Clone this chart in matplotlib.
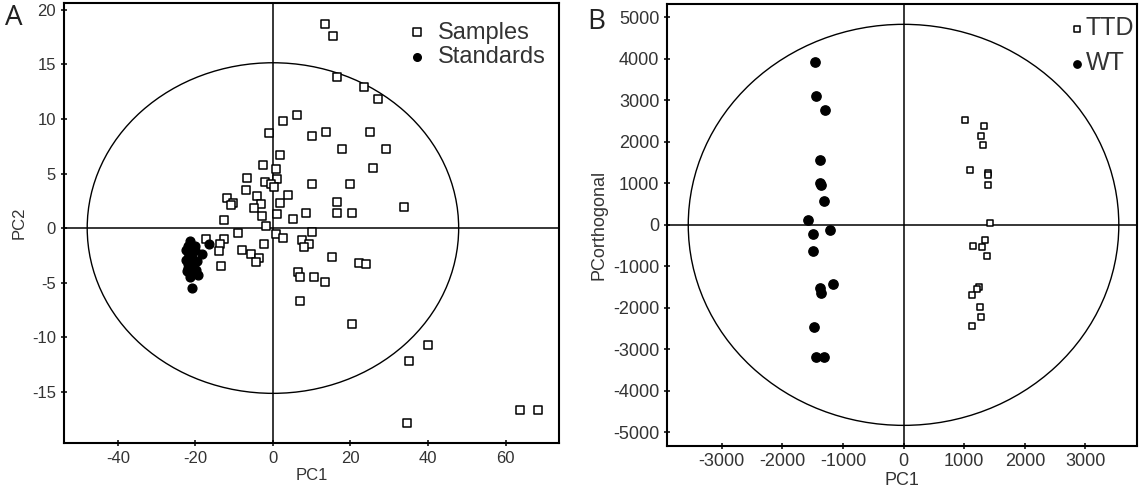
import numpy as np
import matplotlib
matplotlib.use("Agg")
from matplotlib import pyplot as plt
from matplotlib.patches import Ellipse

plt.rcParams['font.family'] = ['Liberation Sans', 'DejaVu Sans']
plt.rcParams['axes.unicode_minus'] = False

# panel A: PCA scores (PC1, PC2)
samples_x = [13.4, 15.4, 16.4, 23.6, 27.1, 6.3, 2.5, -0.9, 10.2, 13.8, 25.1, 17.9, 29.2,
             1.9, 25.7, -2.5, 0.8, -6.6, -2.0, 1.0, -0.5, 0.3, 10.2, 19.9, -7.0, -11.9,
             -10.2, -10.7, -4.0, -3.0, 3.9, 1.9, -5.0, 8.4, 16.4, 16.4, 20.5, 33.9, -2.9,
             1.0, 5.1, -12.5, -1.7, -9.0, 10.1, 0.9, 2.5, -17.2, -12.7, -13.7, 7.5, 9.4,
             8.0, -2.2, -13.9, -8.0, -5.6, -3.7, -4.3, 15.3, 22.1, 24.0, -13.3, 6.5, 7.1,
             10.5, 13.5, 6.9, 20.5, 40.0, 35.0, 63.6, 68.3, 34.7]
samples_y = [18.7, 17.6, 13.8, 12.9, 11.8, 10.4, 9.8, 8.7, 8.4, 8.8, 8.8, 7.2, 7.2,
             6.7, 5.5, 5.8, 5.4, 4.6, 4.2, 4.5, 4.0, 3.8, 4.0, 4.0, 3.5, 2.8,
             2.3, 2.1, 2.9, 2.2, 3.0, 2.3, 1.8, 1.4, 2.4, 1.4, 1.4, 1.9, 1.1,
             1.3, 0.8, 0.7, 0.2, -0.46, -0.4, -0.55, -0.9, -1.0, -1.0, -1.5, -1.1, -1.5,
             -1.7, -1.5, -2.1, -2.0, -2.4, -2.7, -3.1, -2.65, -3.2, -3.3, -3.5, -4.0, -4.5,
             -4.5, -4.9, -6.7, -8.8, -10.7, -12.2, -16.7, -16.7, -17.9]
standards_x = [-21.5, -21.8, -21.2, -22.0, -21.0, -21.6, -22.3, -20.8, -21.4, -22.0, -20.5,
               -21.2, -21.8, -20.6, -21.0, -22.2, -21.5, -20.3, -19.3, -20.0, -19.6, -18.3,
               -16.4, -20.8, -21.3, -20.2, -19.8, -22.4]
standards_y = [-1.2, -1.6, -1.9, -2.2, -2.4, -2.6, -2.9, -2.8, -3.1, -3.3, -3.2,
               -3.5, -3.7, -3.6, -3.9, -3.9, -4.2, -4.0, -4.3, -2.0, -3.0, -2.35,
               -1.5, -5.5, -4.5, -1.6, -3.8, -2.0]

# panel B: OPLS scores (PC1, PCorthogonal)
ttd_x = [1006, 1335, 1276, 1312, 1094, 1388, 1388, 1388, 1418, 1347, 1153, 1297, 1371,
         1241, 1210, 1124, 1259, 1276, 1124]
ttd_y = [2534, 2390, 2149, 1933, 1331, 1243, 1195, 970, 40, -370, -510, -524, -759,
         -1506, -1540, -1699, -1972, -2213, -2430]
wt_x = [-1453, -1447, -1300, -1371, -1371, -1359, -1312, -1582, -1488, -1206, -1485,
        -1171, -1382, -1359, -1471, -1447, -1306]
wt_y = [3921, 3103, 2767, 1564, 1018, 954, 577, 128, -217, -136, -630,
        -1426, -1522, -1643, -2470, -3185, -3185]

fig = plt.figure(figsize=(11.41, 4.92), dpi=100)
axA = fig.add_axes([0.0557, 0.0996, 0.4343, 0.8937])
axB = fig.add_axes([0.5846, 0.0941, 0.4119, 0.8978])


def style_axes(ax, fs):
    for s in ax.spines.values():
        s.set_linewidth(1.5)
    ax.tick_params(direction='inout', length=5, width=1.1, labelsize=fs,
                   labelcolor='#333333', pad=3)
    ax.axhline(0, color='black', lw=1.1, zorder=1)
    ax.axvline(0, color='black', lw=1.1, zorder=1)


# --- A ---
style_axes(axA, 12)
axA.add_patch(Ellipse((0, 0), 2 * 47.9, 2 * 15.15, fill=False, lw=1.0,
                      edgecolor='black', zorder=1))
axA.scatter(samples_x, samples_y, marker='s', s=26, facecolors='white',
            edgecolors='black', linewidths=1.1, zorder=3, label='Samples')
axA.scatter(standards_x, standards_y, marker='o', s=40, color='black',
            zorder=4, label='Standards')
axA.set_xlim(-54, 73.8)
axA.set_ylim(-19.7, 20.6)
axA.set_xticks([-40, -20, 0, 20, 40, 60])
axA.set_yticks([-15, -10, -5, 0, 5, 10, 15, 20])
axA.set_xlabel('PC1', fontsize=12, color='#333333', labelpad=2)
axA.set_ylabel('PC2', fontsize=12, color='#333333', labelpad=4)
legA = axA.legend(loc='upper left', bbox_to_anchor=(0.67, 0.98), frameon=False,
                  fontsize=17, scatterpoints=1, handlelength=1.0, handletextpad=0.4,
                  labelspacing=0.12, borderaxespad=0, labelcolor='#333333')
legA.legend_handles[1].set_sizes([30])

# --- B ---
style_axes(axB, 13)
axB.add_patch(Ellipse((0, 0), 2 * 3550, 2 * 4830, fill=False, lw=1.0,
                      edgecolor='black', zorder=1))
axB.scatter(ttd_x, ttd_y, marker='s', s=22, facecolors='white',
            edgecolors='black', linewidths=1.1, zorder=3, label='TTD')
axB.scatter(wt_x, wt_y, marker='o', s=45, color='black', zorder=4, label='WT')
axB.set_xlim(-3900, 3850)
axB.set_ylim(-5320, 5320)
axB.set_xticks(np.arange(-3000, 3001, 1000))
axB.set_yticks(np.arange(-5000, 5001, 1000))
axB.set_xlabel('PC1', fontsize=13, color='#333333', labelpad=1)
axB.set_ylabel('PCorthogonal', fontsize=13, color='#333333', labelpad=4)
legB = axB.legend(loc='upper left', bbox_to_anchor=(0.84, 0.995), frameon=False,
                  fontsize=18, scatterpoints=1, handlelength=0.4, handletextpad=0.15,
                  labelspacing=0.45, borderaxespad=0, labelcolor='#333333')
legB.legend_handles[0].set_sizes([16])
legB.legend_handles[1].set_sizes([28])

fig.text(0.012, 0.963, 'A', fontsize=20, family=['Open Sans', 'DejaVu Sans'],
         color='#222222', va='center', ha='center')
fig.text(0.5225, 0.955, 'B', fontsize=20, family=['Open Sans', 'DejaVu Sans'],
         color='#222222', va='center', ha='center')

fig.savefig('out.png', dpi=100)
